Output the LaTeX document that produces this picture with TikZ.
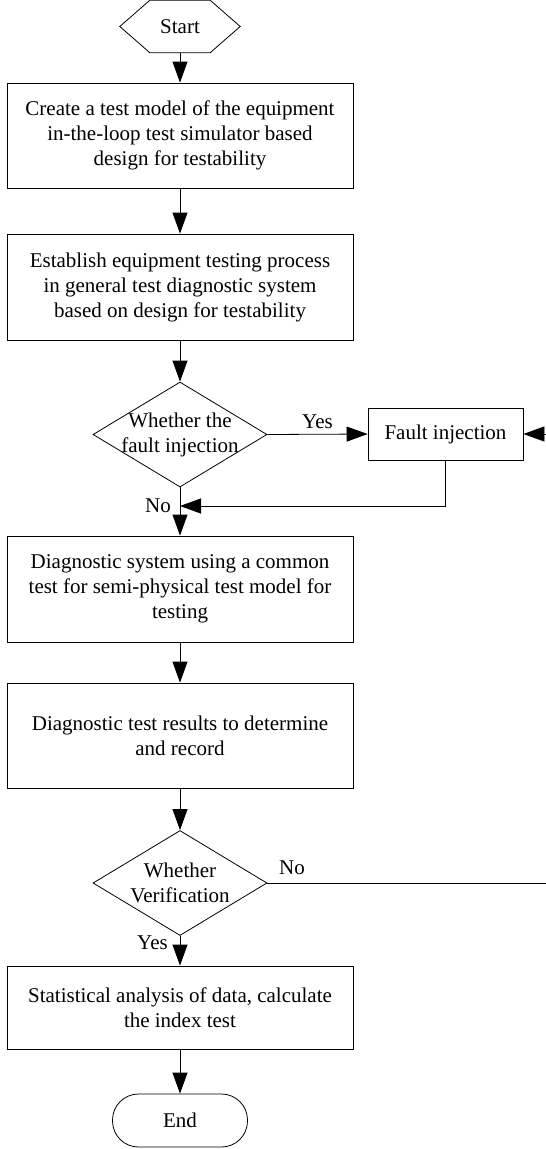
\documentclass[tikz,border=0pt]{standalone}
\usepackage{fontspec}
\setmainfont{Liberation Serif}
\usetikzlibrary{arrows.meta,shapes.geometric}
\begin{document}
\begin{tikzpicture}[x=1pt,y=-1pt,
  every node/.style={font=\fontsize{21}{25}\selectfont},
  box/.style={draw, line width=0.8pt, rectangle, align=center, inner sep=0pt},
  dia/.style={draw, line width=0.8pt, diamond, minimum width=174pt, minimum height=105pt, inner sep=0pt},
  txt/.style={align=center, inner sep=0pt},
  lbl/.style={inner sep=0pt},
  arr/.style={line width=0.8pt, -{Triangle[length=21pt,width=15pt]}},
  ln/.style={line width=0.8pt}]
\useasboundingbox (0,0) rectangle (546,1149);

% Start hexagon
\node[minimum width=120pt, minimum height=52pt, inner sep=0pt] (start) at (180,26.5) {Start};
\draw[ln] ([xshift=30pt]start.north west) -- ([xshift=-30pt]start.north east) -- (start.east)
  -- ([xshift=-30pt]start.south east) -- ([xshift=30pt]start.south west) -- (start.west) -- cycle;

\node[box, minimum width=346pt, minimum height=105pt] (b1) at (180,135.5)
  {Create a test model of the equipment\\in-the-loop test simulator based\\design for testability};
\node[box, minimum width=346pt, minimum height=106pt] (b2) at (180,287)
  {Establish equipment testing process\\in general test diagnostic system\\based on design for testability};

\node[dia] (d1) at (180,434.5) {};
\node[txt] at (180,434.5) {Whether the\\fault injection};

\node[box, minimum width=155pt, minimum height=52pt] (fi) at (445.5,434) {Fault injection};

\node[box, minimum width=346pt, minimum height=106pt] (b3) at (180,589)
  {Diagnostic system using a common\\test for semi-physical test model for\\testing};
\node[box, minimum width=346pt, minimum height=105pt] (b4) at (180,735.5)
  {Diagnostic test results to determine\\and record};

\node[dia] (d2) at (180,883) {};
\node[txt] at (180,883) {Whether\\Verification};

\node[box, minimum width=346pt, minimum height=83pt] (b5) at (180,1007.5)
  {Statistical analysis of data, calculate\\the index test};

\node[draw, line width=0.8pt, rectangle, rounded corners=26pt, minimum width=135pt, minimum height=53pt, inner sep=0pt] (end) at (180,1120.5) {End};

% connectors
\draw[arr] (start.south) -- (b1.north);
\draw[arr] (b1.south) -- (b2.north);
\draw[arr] (b2.south) -- (d1.north);
\draw[arr] (d1.east) -- node[lbl, above=5pt] {Yes} (fi.west);
\coordinate (m1) at (180,506);
\draw[arr] (fi.south) |- (m1);
\node[lbl, anchor=east] at (171,506) {No};
\draw[arr] (d1.south) -- (b3.north);
\draw[arr] (b3.south) -- (b4.north);
\draw[arr] (b4.south) -- (d2.north);
\coordinate (r1) at (546,883);
\coordinate (r2) at (546,434);
\draw[ln] (d2.east) -- (r1);
\node[lbl] at (292,868) {No};
\draw[arr] (r2) -- (fi.east);
\draw[arr] (d2.south) -- (b5.north);
\node[lbl, anchor=east] at (168,943) {Yes};
\draw[arr] (b5.south) -- (end.north);
\end{tikzpicture}
\end{document}
